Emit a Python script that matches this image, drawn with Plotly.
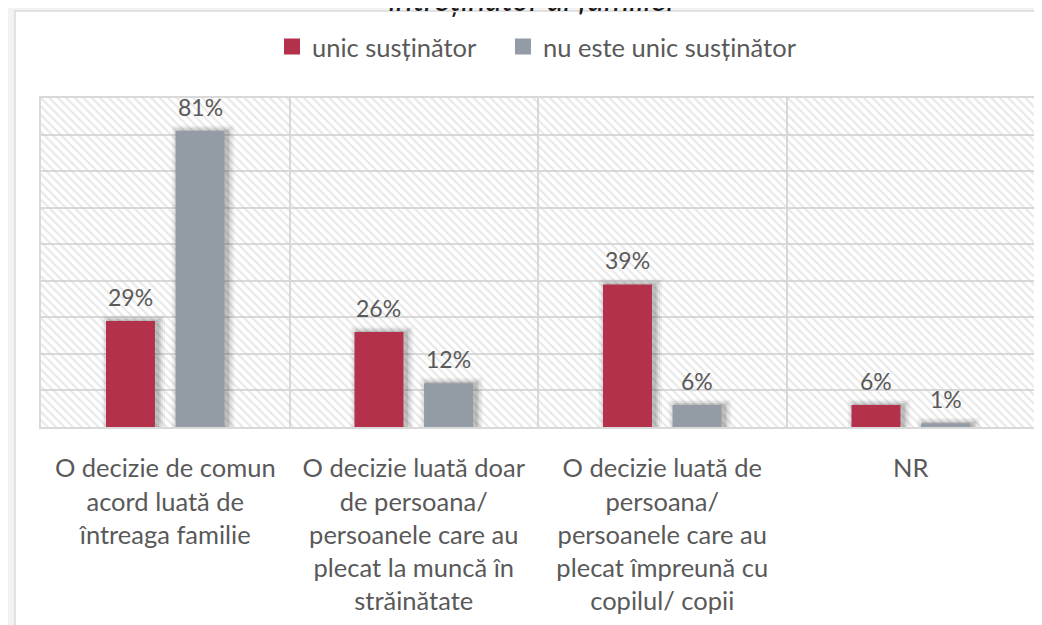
import plotly.graph_objects as go

categories = [
    "O decizie de comun<br>acord luată de<br>întreaga familie",
    "O decizie luată doar<br>de persoana/<br>persoanele care au<br>plecat la muncă în<br>străinătate",
    "O decizie luată de<br>persoana/<br>persoanele care au<br>plecat împreună cu<br>copilul/ copii",
    "NR",
]
series_names = ["unic susținător", "nu este unic susținător"]
unic = [29, 26, 39, 6]
nu_unic = [81, 12, 6, 1]
title_text = "întreținător al familiei"

RED = "#B3314B"
GRAY = "#939BA4"
TXT = "#595959"
FONT = "Lato"
FS = 25.5
FS_LBL = 23

CAT_PX = 994 / 4
PX_PER_PCT = 329 / 90
HALF = 0.14
W_BAR = 0.197
OFF = [-HALF - W_BAR / 2, HALF - W_BAR / 2]

fig = go.Figure()

# hatched background of the plot area (primary axes, drawn beneath the bars)
fig.add_trace(go.Scatter(
    x=[0, 1, 1, 0, 0], y=[0, 0, 1, 1, 0], mode="none", fill="toself",
    fillcolor="rgba(0,0,0,0)",
    fillpattern=dict(shape="\\", fgcolor="#cfcfcf", bgcolor="rgba(255,255,255,0)",
                     size=6, solidity=0.35),
    hoverinfo="skip", showlegend=False, xaxis="x", yaxis="y",
))

# soft blurred shadows (stacked translucent layers)
for vals, off in [(unic, OFF[0]), (nu_unic, OFF[1])]:
    for kpx, a in [(7, 0.05), (5, 0.07), (3, 0.09), (1.5, 0.12)]:
        k = kpx / CAT_PX
        fig.add_trace(go.Bar(
            x=categories, y=[v + kpx * 0.8 / PX_PER_PCT for v in vals],
            width=W_BAR + 2 * k, offset=off - k + 3 / CAT_PX,
            marker=dict(color=f"rgba(40,40,40,{a})", line=dict(width=0)),
            hoverinfo="skip", showlegend=False, xaxis="x2", yaxis="y2",
        ))

for vals, col, off in [(unic, RED, OFF[0]), (nu_unic, GRAY, OFF[1])]:
    fig.add_trace(go.Bar(
        x=categories, y=vals, width=W_BAR, offset=off,
        marker=dict(color=col, line=dict(width=0)),
        showlegend=False, xaxis="x2", yaxis="y2",
    ))

# legend entries (one legend each, to space them like the original)
for name, col, lg in zip(series_names, [RED, GRAY], ["legend", "legend2"]):
    fig.add_trace(go.Scatter(
        x=[None], y=[None], mode="markers", name=name, legend=lg,
        marker=dict(symbol="square", size=16, color=col),
        xaxis="x2", yaxis="y2",
    ))

annotations = []
for vals, sgn in [(unic, -1), (nu_unic, 1)]:
    for c, v in zip(categories, vals):
        annotations.append(dict(
            x=c, y=v, xref="x2", yref="y2", text=f"{v}%", showarrow=False,
            xanchor="center", yanchor="bottom", xshift=sgn * HALF * CAT_PX,
            yshift=8, font=dict(family=FONT, size=FS_LBL, color=TXT),
        ))

legend_common = dict(orientation="h", xanchor="left", y=1.155, yanchor="middle",
                     font=dict(family=FONT, size=FS, color=TXT),
                     bgcolor="rgba(0,0,0,0)", itemsizing="trace")

fig.update_layout(
    width=1042, height=625,
    margin=dict(l=33, r=15, t=90, b=206),
    paper_bgcolor="#f2f2f2", plot_bgcolor="white",
    barmode="overlay",
    font=dict(family=FONT, size=FS, color=TXT),
    title=dict(text=f"<i>{title_text}</i>", x=0.502, xanchor="center",
               xref="container", y=1 - 3 / 625, yanchor="bottom", yref="container",
               font=dict(family=FONT, size=32, color="#1a1a1a")),
    xaxis=dict(range=[0, 1], visible=False, fixedrange=True),
    yaxis=dict(range=[0, 1], visible=False, fixedrange=True),
    xaxis2=dict(overlaying="x", type="category", tickson="boundaries",
                showgrid=True, gridcolor="#d9d9d9", gridwidth=1.5,
                showline=True, linecolor="#d9d9d9", linewidth=1.5, mirror=True,
                ticks="", ticklabelstandoff=18,
                tickfont=dict(family=FONT, size=FS, color=TXT)),
    yaxis2=dict(overlaying="y", range=[0, 90], dtick=10, showgrid=True,
                gridcolor="#d9d9d9", gridwidth=1.5, showticklabels=False,
                zeroline=False, showline=True, linecolor="#d9d9d9", linewidth=1.5,
                mirror=True),
    legend=dict(x=(264 - 33) / 994, **legend_common),
    legend2=dict(x=(495 - 33) / 994, **legend_common),
    annotations=annotations,
    shapes=[dict(type="rect", xref="paper", yref="paper",
                 x0=(7 - 33) / 994, x1=1.2, y0=-1.0, y1=1 + (90 - 3) / 329,
                 fillcolor="white", line=dict(color="#d9d9d9", width=1.5),
                 layer="below")],
)

fig.write_html("out.html")
